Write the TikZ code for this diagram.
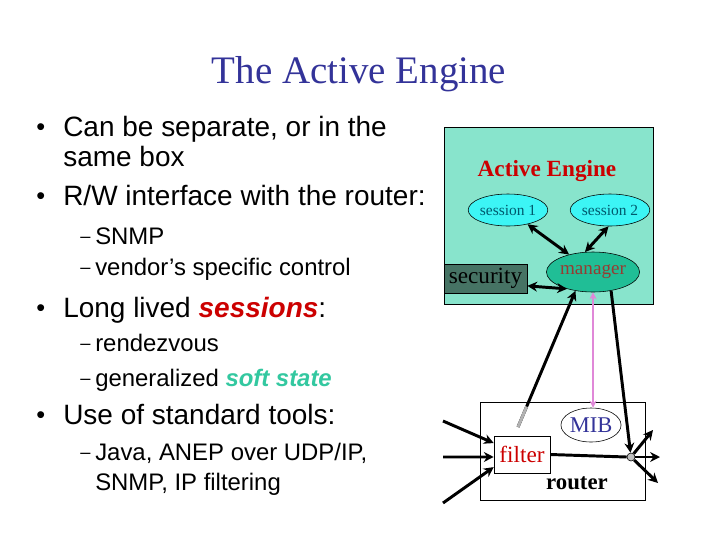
\documentclass[tikz,border=0pt]{standalone}
\usepackage{fontspec}
\setmainfont{Liberation Sans}
\newfontfamily\serifx{Liberation Serif}
\usetikzlibrary{arrows.meta,shapes.geometric,calc}
\definecolor{titleblue}{RGB}{51,51,153}
\definecolor{slidered}{RGB}{204,0,0}
\definecolor{softteal}{RGB}{51,200,160}
\definecolor{enginebg}{RGB}{136,228,204}
\definecolor{sessfill}{RGB}{60,245,245}
\definecolor{sesstext}{RGB}{0,90,110}
\definecolor{mgrfill}{RGB}{32,190,150}
\definecolor{mgrtext}{RGB}{150,60,50}
\definecolor{secfill}{RGB}{70,115,100}
\definecolor{miblink}{RGB}{224,136,216}
\newcommand{\bodysize}{\fontsize{19.9}{23}\selectfont}
\newcommand{\subsize}{\fontsize{17}{20}\selectfont}
\begin{document}
\begin{tikzpicture}[x=0.025cm,y=-0.025cm,
    line/.style={anchor=base west,inner sep=0pt,font=\bodysize},
    subline/.style={anchor=base west,inner sep=0pt,font=\subsize},
    bulletdot/.style={anchor=base west,inner sep=0pt,font=\fontsize{18}{20}\selectfont},
    subdash/.style={anchor=base west,inner sep=0pt,font=\fontsize{13}{15}\selectfont,yshift=1.2pt},
    sess/.style={ellipse,draw,fill=sessfill,inner sep=0pt,minimum width=1.7cm,minimum height=0.8cm,
        font=\serifx\fontsize{11}{13}\selectfont,text=sesstext},
    fat/.style={line width=2.1pt,-{Stealth[length=7pt,width=7pt]}},
    twoway/.style={line width=2.1pt,{Stealth[length=7pt,width=7pt]}-{Stealth[length=7pt,width=7pt]}}]
	\fill[white] (0,0) rectangle (720,540);
	\useasboundingbox (0,0) rectangle (720,540);

	\node[anchor=base,inner sep=0pt,text=titleblue,font=\serifx\fontsize{27.7}{32}\selectfont] (title) at (359,83) {The Active Engine};

	% left column
	\node[bulletdot] at (36,135) {\textbullet};
	\node[line] (can) at (63,136) {Can be separate, or in the};
	\node[line] (box) at (63,166) {same box};
	\node[bulletdot] at (36,204) {\textbullet};
	\node[line] (rw) at (63,205) {R/W interface with the router:};
	\node[subdash] at (80,244) {--};
	\node[subline] (snmp) at (95,244) {SNMP};
	\node[subdash] at (80,275) {--};
	\node[subline] (vendor) at (95,275) {vendor’s specific control};
	\node[bulletdot] at (36,316) {\textbullet};
	\node[line] (long) at (63,317) {Long lived \textcolor{slidered}{\textbf{\textit{sessions}}}:};
	\node[subdash] at (80,351) {--};
	\node[subline] (rdv) at (95,351) {rendezvous};
	\node[subdash] at (80,386) {--};
	\node[subline] (gen) at (95,386) {generalized \textcolor{softteal}{\textbf{\textit{soft state}}}};
	\node[bulletdot] at (36,423) {\textbullet};
	\node[line] (use) at (63,424) {Use of standard tools:};
	\node[subdash] at (80,460) {--};
	\node[subline] (java) at (95,460) {Java, ANEP over UDP/IP,};
	\node[subline] (ipf) at (95,490) {SNMP, IP filtering};

	% the engine
	\node[draw,fill=enginebg,minimum width=5.225cm,minimum height=4.425cm] (engine) at (548.5,215.5) {};
	\node[text=slidered,font=\serifx\bfseries\fontsize{16.5}{19}\selectfont] (enginelbl) at (547,171) {Active Engine};
	\node[sess] (s1) at (508,210) {session 1};
	\node[sess] (s2) at (610,210) {session 2};
	\node[ellipse,draw,fill=mgrfill,inner sep=0pt,minimum width=2.05cm,minimum height=1cm,
	    text=mgrtext,font=\serifx\fontsize{13.6}{16}\selectfont] (manager) at (593,272) {manager};
	\node[draw,fill=secfill,minimum width=2.075cm,minimum height=0.725cm,inner sep=0pt,
	    font=\serifx\fontsize{16.5}{19}\selectfont] (security) at (485.5,278.5) {security};

	\draw[twoway] (s1) -- (manager);
	\draw[twoway] (s2.-95) -- (manager.112);
	\draw[twoway] (security.-10) -- (manager.-147);

	% the router
	\node[draw,minimum width=4.125cm,minimum height=2.45cm] (router) at (562.5,451) {};
	\node[font=\serifx\bfseries\fontsize{16.2}{19}\selectfont] (routerlbl) at (577,483) {router};
	\node[draw,fill=white,minimum width=1.4cm,minimum height=0.925cm,inner sep=0pt,
	    text=slidered,font=\serifx\fontsize{16.5}{19}\selectfont] (filter) at (522,454.5) {filter};
	\node[ellipse,draw,inner sep=0pt,minimum width=1.1cm,minimum height=0.85cm,
	    text=titleblue,font=\serifx\fontsize{16}{18}\selectfont] (mib) at (591,425) {MIB};
	\node[circle,draw,fill=gray!50,inner sep=0pt,minimum size=0.2cm] (junc) at (631,457) {};

	\coordinate (in1) at (443,421);
	\coordinate (in2) at (443,457);
	\coordinate (in3) at (443,503);
	\coordinate (out1) at (653,430);
	\coordinate (out2) at (660,457);
	\coordinate (out3) at (658,483);
	\coordinate (tap) at (518,427);

	\draw[fat] (in1) -- (filter.158);
	\draw[fat] (in2) -- (filter.185);
	\draw[fat] (in3) -- (filter.204);
	\draw[line width=2.1pt] (filter.east) -- (junc.west);
	\draw[fat] (junc) -- (out1);
	\draw[fat] (junc) -- (out2);
	\draw[fat] (junc) -- (out3);

	\draw[fat] (tap) -- (manager.-133);
	\draw[line width=2.1pt,gray!60] (tap) -- ($(tap)!0.15!(manager.-133)$);
	\draw[fat] (manager.-46) -- (junc);
	\draw[miblink,line width=1.2pt,{Stealth[length=5pt,width=5pt]}-{Stealth[length=5pt,width=5pt]}]
	    (manager.south) -- (manager.south |- mib.north);
\end{tikzpicture}
\end{document}
